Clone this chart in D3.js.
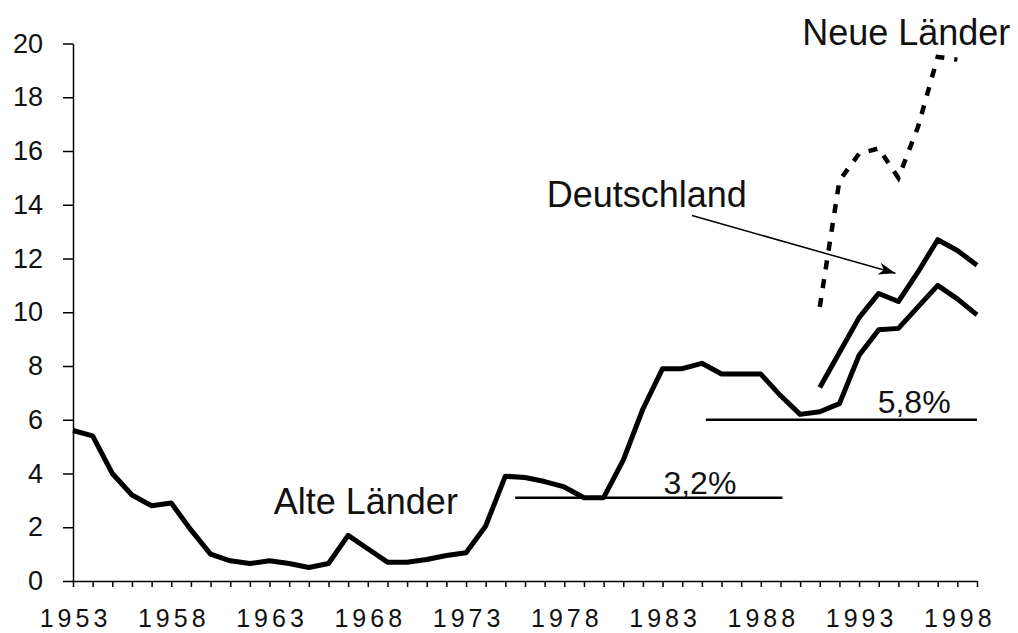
<!DOCTYPE html>
<html>
<head>
<meta charset="utf-8">
<script src="https://cdn.jsdelivr.net/npm/d3@7"></script>
<style>
  html, body { margin: 0; padding: 0; background: #fff; }
  .chart text { font-family: "Liberation Sans", Arial, sans-serif; fill: #111; }
</style>
</head>
<body>
<div class="chart"></div>
<script>
// unemployment rate in %
const years = [1953, 1954, 1955, 1956, 1957, 1958, 1959, 1960, 1961, 1962, 1963, 1964, 1965, 1966, 1967, 1968,
  1969, 1970, 1971, 1972, 1973, 1974, 1975, 1976, 1977, 1978, 1979, 1980, 1981, 1982, 1983, 1984,
  1985, 1986, 1987, 1988, 1989, 1990, 1991, 1992, 1993, 1994, 1995, 1996, 1997, 1998, 1999];
const alteLaender = [5.6, 5.4, 4.0, 3.2, 2.8, 2.9, 1.9, 1.0, 0.75, 0.65, 0.75, 0.65, 0.5, 0.65, 1.7, 1.2,
  0.7, 0.7, 0.8, 0.95, 1.05, 2.05, 3.9, 3.85, 3.7, 3.5, 3.1, 3.1, 4.5, 6.4, 7.9, 7.9,
  8.1, 7.7, 7.7, 7.7, 6.9, 6.2, 6.3, 6.6, 8.4, 9.35, 9.4, 10.2, 11.0, 10.5, 9.9];

const deYears = [1991, 1992, 1993, 1994, 1995, 1996, 1997, 1998, 1999];
const deutschland = [7.2, 8.5, 9.8, 10.7, 10.4, 11.5, 12.7, 12.3, 11.75];

const neueYears = [1991, 1992, 1993, 1994, 1995, 1996, 1997, 1998];
const neueLaender = [10.2, 14.9, 15.9, 16.1, 15.0, 16.9, 19.5, 19.4];

const yTicks = [0, 2, 4, 6, 8, 10, 12, 14, 16, 18, 20];
const xLabels = [1953, 1958, 1963, 1968, 1973, 1978, 1983, 1988, 1993, 1998];

// average lines: [from, to, level, label]
const avgLines = [
  { from: 1975.5, to: 1989.1, level: 3.1, label: "3,2%", lx: 1984.9, ly: 3.25 },
  { from: 1985.2, to: 1999, level: 6.0, label: "5,8%", lx: 1995.8, ly: 6.25 }
];

const labels = [
  { text: "Alte Länder", x: 1967.9, y: 2.5 },
  { text: "Deutschland", x: 1982.2, y: 13.9 },
  { text: "Neue Länder", x: 1995.4, y: 19.95 }
];
const arrow = { x1: 1984.5, y1: 13.6, x2: 1994.85, y2: 11.45 };

const width = 1018, height = 633;
const svg = d3.select(".chart").append("svg")
  .attr("width", width)
  .attr("height", height);

svg.append("rect").attr("width", width).attr("height", height).attr("fill", "#fff");

const x = d3.scaleLinear().domain([1953, 1999]).range([73, 977]);
const y = d3.scaleLinear().domain([0, 20]).range([581, 43.5]);

// y axis
const yAxis = svg.append("g")
  .attr("transform", `translate(${x(1953)},0)`)
  .call(d3.axisLeft(y).tickValues(yTicks).tickSize(10).tickSizeOuter(0).tickPadding(20));
yAxis.select(".domain").attr("stroke", "#000").attr("stroke-width", 1.5);
yAxis.selectAll(".tick line").attr("stroke", "#000").attr("stroke-width", 1.5);
yAxis.selectAll(".tick text").attr("font-size", 27).attr("fill", "#111")
  .attr("font-family", "Liberation Sans, Arial, sans-serif");

// x axis
const xAxis = svg.append("g")
  .attr("transform", `translate(0,${y(0)})`)
  .call(d3.axisBottom(x).tickValues(years).tickSize(6).tickSizeOuter(0)
    .tickFormat(d => xLabels.includes(d) ? d : ""));
xAxis.select(".domain").attr("stroke", "#000").attr("stroke-width", 1.5);
xAxis.selectAll(".tick line").attr("stroke", "#000").attr("stroke-width", 1.5);
xAxis.selectAll(".tick text")
  .attr("font-size", 25)
  .attr("letter-spacing", 4)
  .attr("dx", 2)
  .attr("y", 28)
  .attr("fill", "#111")
  .attr("font-family", "Liberation Sans, Arial, sans-serif");

const line = d3.line()
  .x(d => x(d[0]))
  .y(d => y(d[1]))
  .curve(d3.curveLinear);

svg.append("path")
  .datum(d3.zip(years, alteLaender))
  .attr("fill", "none")
  .attr("stroke", "#000")
  .attr("stroke-width", 5)
  .attr("stroke-linejoin", "round")
  .attr("d", line);

svg.append("path")
  .datum(d3.zip(deYears, deutschland))
  .attr("fill", "none")
  .attr("stroke", "#000")
  .attr("stroke-width", 5)
  .attr("stroke-linejoin", "round")
  .attr("d", line);

svg.append("path")
  .datum(d3.zip(neueYears, neueLaender))
  .attr("fill", "none")
  .attr("stroke", "#000")
  .attr("stroke-width", 4.5)
  .attr("stroke-dasharray", "9,10")
  .attr("d", line);

// average lines
svg.selectAll(".avg")
  .data(avgLines)
  .join("line")
  .attr("class", "avg")
  .attr("x1", d => x(d.from))
  .attr("x2", d => x(d.to))
  .attr("y1", d => y(d.level))
  .attr("y2", d => y(d.level))
  .attr("stroke", "#000")
  .attr("stroke-width", 2.5);

svg.selectAll(".avgLabel")
  .data(avgLines)
  .join("text")
  .attr("class", "avgLabel")
  .attr("x", d => x(d.lx))
  .attr("y", d => y(d.ly))
  .attr("text-anchor", "middle")
  .attr("font-size", 32)
  .text(d => d.label);

// series labels
svg.selectAll(".seriesLabel")
  .data(labels)
  .join("text")
  .attr("class", "seriesLabel")
  .attr("x", d => x(d.x))
  .attr("y", d => y(d.y))
  .attr("text-anchor", "middle")
  .attr("font-size", 36)
  .text(d => d.text);

// arrow to Deutschland
svg.append("defs").append("marker")
  .attr("id", "head")
  .attr("viewBox", "-18 -8 20 16")
  .attr("refX", 0).attr("refY", 0)
  .attr("markerWidth", 20).attr("markerHeight", 16)
  .attr("markerUnits", "userSpaceOnUse")
  .attr("orient", "auto")
  .append("path")
  .attr("d", "M0,0L-17,-6L-12,0L-17,6Z")
  .attr("fill", "#000");

svg.append("line")
  .attr("x1", x(arrow.x1)).attr("y1", y(arrow.y1))
  .attr("x2", x(arrow.x2)).attr("y2", y(arrow.y2))
  .attr("stroke", "#000")
  .attr("stroke-width", 1.5)
  .attr("marker-end", "url(#head)");
</script>
</body>
</html>
